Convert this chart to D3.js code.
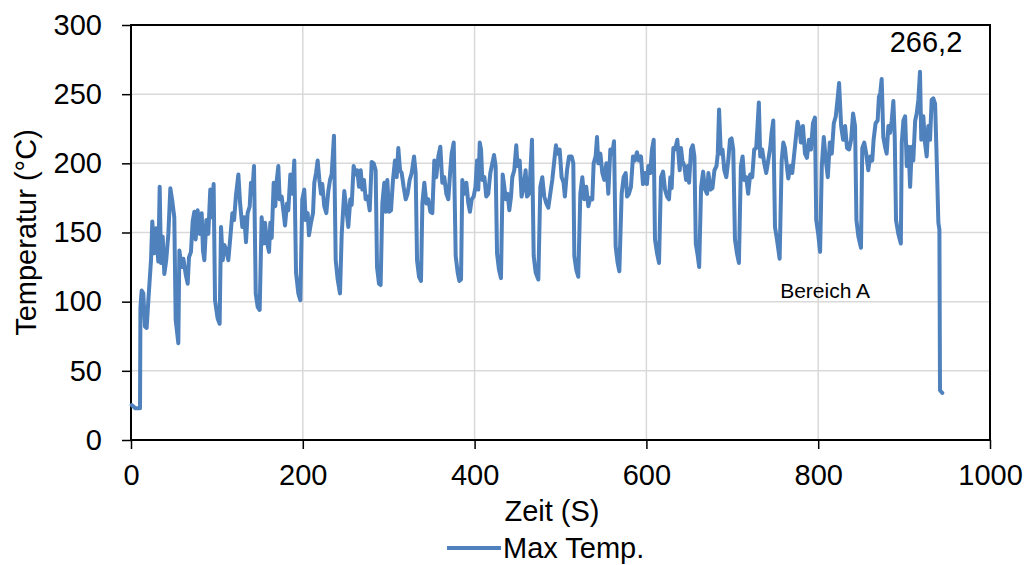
<!DOCTYPE html>
<html>
<head>
<meta charset="utf-8">
<script src="https://cdn.jsdelivr.net/npm/d3@7"></script>
<style>
  body { margin: 0; background: #fff; }
  svg text { font-family: "Liberation Sans", Arial, sans-serif; fill: #000; }
</style>
</head>
<body>
<div id="chart-area"></div>
<script>
// Zeit (s) und Max Temp. (°C)
const zeit = [
  0.8, 5, 10.5, 11, 12.4, 14.3, 16.3, 18.2, 20.2, 23.3, 24.8, 27, 29.1, 31.8, 33.4, 34.9, 36.9, 38.8, 41, 43.5,
  45.8, 48, 50.4, 52, 55.1, 56.3, 59, 61, 63.6, 66, 67.5, 69.8, 71.8, 73.7, 75.3, 77.6, 80, 82.3, 83.8, 85.4,
  87.7, 90, 92.3, 94.3, 96.2, 97.8, 100.8, 103.2, 104.8, 106.8, 108.7, 111, 113.3, 115.7, 118, 120, 122.2, 125, 126.9, 129.6,
  131.9, 133.9, 135.8, 138.2, 139.7, 141.2, 143.2, 145.2, 147.5, 149.8, 152.1, 154.4, 156, 158.3, 160.7, 162.2, 163.8, 166.1, 168, 169.6,
  171.5, 173.1, 175.4, 177.7, 179.3, 181.6, 183.1, 185.5, 187.8, 190.1, 192.1, 194.8, 197.1, 199.4, 201.7, 203.4, 205.7, 207.2, 209.5, 211.9,
  213.4, 215.4, 217.3, 219.3, 221.2, 222.7, 225, 227.4, 229.7, 231.7, 233.6, 236.3, 238.3, 240.6, 243.3, 245.3, 248.3, 251, 253, 255.3,
  256.9, 259.2, 261.6, 263.5, 265.4, 267.4, 269.3, 271.2, 273.2, 275.5, 277.9, 280.2, 282.5, 284.8, 286.4, 288.7, 290.6, 292.6, 294.9, 296.5,
  298.4, 300.3, 302.7, 305, 307.3, 309.3, 311.2, 313.2, 315.1, 317.4, 319.8, 322, 324.4, 326.7, 329.5, 331.4, 333, 335.3, 337.6, 339.2,
  341.5, 343.9, 346.1, 348.5, 350.8, 353.1, 355.4, 357.8, 360.1, 362.4, 364.7, 367.1, 369.4, 371.7, 373.3, 375.7, 378, 380.3, 382.2, 384.2,
  385.7, 388, 390.4, 392.7, 394.6, 396.6, 398.9, 401, 402.8, 404.3, 406, 407.5, 409, 411.4, 413.6, 415.9, 418.3, 420.6, 422.6, 424.5,
  426.1, 428.4, 430.7, 432.7, 434.6, 436.2, 438.5, 440.4, 442.4, 443.9, 446.2, 448.5, 450, 452.5, 454.7, 457.1, 459.4, 461, 463.3, 464.9,
  466.8, 468.8, 471.1, 474.2, 476.5, 478.8, 481.1, 483.5, 485.8, 488.1, 490.4, 492.8, 494.7, 496.6, 499, 501.3, 503.6, 505.1, 507.6, 509.9,
  513, 514.9, 516.1, 518.4, 520.7, 523.1, 525.4, 527.7, 530, 532.4, 534.7, 537, 538.6, 540.9, 542.5, 544, 546.4, 548.7, 551, 553.4,
  555.7, 558, 560.3, 562.3, 564.2, 566.5, 568.5, 571.2, 573.5, 575.9, 577.5, 579.7, 582, 584.4, 586.7, 589, 591.3, 593.7, 596, 598.3,
  600.6, 602.2, 604.5, 606.5, 608.5, 610, 612.4, 614.7, 617, 619.4, 621.7, 624, 626.3, 627.9, 629.4, 631.4, 633.3, 636, 638.8, 640.3,
  641.9, 644.2, 646.2, 648.1, 649.7, 652, 654, 655.9, 657.5, 659.8, 661.4, 663.7, 666, 668.3, 670.7, 672.2, 674.6, 676.9, 679.2, 681.6,
  683.1, 684.6, 686.6, 688.6, 690.7, 693, 695.3, 697.3, 699.2, 701.1, 703.1, 705.4, 707.7, 710, 712, 713.9, 716.2, 718.5, 720.8, 723.2,
  725.5, 727.8, 729.4, 730.9, 732.5, 734.8, 737.2, 739.5, 741.8, 744.1, 745.7, 747.7, 749.7, 752, 755.1, 757.5, 759.4, 761.3, 763.5, 765.2,
  767.5, 769.8, 772.1, 774.1, 776, 778.4, 779.9, 782.2, 784.6, 786.9, 789.2, 791.5, 793.9, 796.2, 797.7, 800, 802.2, 804.2, 806.5, 808.9,
  811.2, 813.5, 815.8, 818.2, 820.5, 822.8, 824.3, 826.7, 829, 831.3, 833.6, 836, 838.3, 840.6, 842.9, 844.5, 846.8, 849.8, 851.3, 853.6,
  855.9, 858.3, 860.6, 862.9, 864.5, 866.8, 869.2, 870.7, 872.3, 873.9, 875.8, 877.8, 879.7, 881.7, 883.6, 885.6, 887.5, 889.1, 890.6, 893.3,
  896.2, 897.3, 899.2, 901.2, 903.1, 905.1, 907, 909, 910.7, 912.9, 914.7, 916.6, 918.5, 920, 922.4, 924.3, 926.3, 928.2, 930.2, 932.1,
  934, 936.1, 938, 939.9, 941.1, 941.8, 944.5
]
const maxTemp = [
  25.3, 23, 23, 96, 108, 106, 82, 81, 101, 130, 158, 135, 153, 129, 183, 128, 147, 120, 130, 149,
  182, 173, 161, 87, 70, 137, 125, 131, 120, 113, 132, 136, 158, 165, 145, 166, 149, 164, 137, 130,
  159, 149, 181, 161, 185, 101, 88, 84, 154, 130, 141, 137, 130, 147, 164, 159, 177, 192, 172, 154,
  161, 143, 164, 169, 186, 178, 198, 106, 96, 94, 161, 142, 157, 143, 136, 157, 146, 186, 169, 187,
  198, 174, 176, 164, 155, 171, 166, 192, 178, 202, 121, 106, 101, 174, 181, 159, 164, 148, 157, 164,
  186, 193, 202, 188, 178, 185, 169, 164, 180, 188, 192, 220, 130, 116, 106, 149, 180, 165, 154, 174,
  170, 198, 192, 195, 183, 195, 181, 188, 174, 176, 166, 201, 200, 195, 125, 113, 112, 171, 186, 165,
  188, 165, 166, 188, 202, 190, 211, 195, 193, 183, 174, 178, 188, 193, 205, 193, 130, 118, 115, 171,
  186, 171, 174, 165, 164, 202, 190, 205, 212, 186, 190, 178, 174, 195, 207, 215, 133, 121, 115, 116,
  188, 178, 186, 171, 165, 174, 176, 183, 202, 181, 215, 210, 188, 190, 176, 178, 193, 200, 206, 198,
  135, 123, 117, 192, 183, 174, 178, 166, 176, 190, 195, 213, 198, 202, 176, 183, 195, 176, 178, 193,
  217, 133, 121, 116, 183, 190, 176, 171, 168, 178, 188, 202, 213, 207, 210, 190, 186, 176, 195, 205,
  205, 200, 133, 123, 118, 178, 190, 174, 183, 169, 175, 174, 200, 205, 219, 200, 207, 193, 188, 200,
  178, 210, 207, 216, 140, 128, 122, 178, 190, 193, 176, 178, 183, 205, 202, 208, 202, 205, 185, 193,
  185, 198, 193, 210, 217, 145, 135, 128, 190, 194, 181, 176, 174, 190, 182, 211, 210, 217, 195, 211,
  202, 198, 188, 198, 186, 210, 213, 205, 142, 133, 125, 183, 194, 181, 178, 193, 181, 182, 195, 198,
  207, 239, 207, 210, 195, 190, 202, 217, 218, 210, 145, 135, 128, 198, 205, 188, 190, 178, 192, 190,
  210, 211, 227, 244, 205, 210, 200, 193, 202, 211, 222, 231, 154, 145, 131, 202, 215, 211, 198, 189,
  198, 193, 207, 219, 230, 224, 215, 227, 207, 204, 217, 210, 229, 233, 159, 149, 136, 198, 219, 202,
  190, 215, 207, 229, 234, 248, 258, 227, 217, 227, 211, 210, 217, 236, 227, 159, 147, 139, 211, 215,
  207, 195, 205, 202, 217, 229, 231, 248, 251, 261, 219, 212, 207, 227, 222, 231, 245, 219, 159, 149,
  142, 215, 231, 234, 198, 212, 183, 212, 202, 231, 236, 246, 266.2, 217, 234, 215, 205, 227, 217, 246,
  247, 243, 202, 157, 152, 36, 34
]
const xTicks = [0, 200, 400, 600, 800, 1000]
const yTicks = [0, 50, 100, 150, 200, 250, 300]

const MARGIN = { LEFT: 131, RIGHT: 40, TOP: 25, BOTTOM: 125 }
const WIDTH = 1030 - MARGIN.LEFT - MARGIN.RIGHT
const HEIGHT = 565 - MARGIN.TOP - MARGIN.BOTTOM
const BLUE = "#4f81bd"

const svg = d3.select("#chart-area").append("svg")
  .attr("width", 1030)
  .attr("height", 565)

const g = svg.append("g")
  .attr("transform", `translate(${MARGIN.LEFT}, ${MARGIN.TOP})`)

const x = d3.scaleLinear().domain([0, 1000]).range([0, WIDTH])
const y = d3.scaleLinear().domain([0, 300]).range([HEIGHT, 0])

// grid
g.append("g").selectAll("line.h").data(yTicks).enter().append("line")
  .attr("x1", 0).attr("x2", WIDTH)
  .attr("y1", d => y(d)).attr("y2", d => y(d))
  .attr("stroke", "#d9d9d9").attr("stroke-width", 1.5)
g.append("g").selectAll("line.v").data(xTicks).enter().append("line")
  .attr("x1", d => x(d)).attr("x2", d => x(d))
  .attr("y1", 0).attr("y2", HEIGHT)
  .attr("stroke", "#d9d9d9").attr("stroke-width", 1.5)

// axes
const yAxisCall = d3.axisLeft(y).tickValues(yTicks).tickSize(9).tickPadding(20)
  .tickFormat(d => d)
const yAxis = g.append("g").call(yAxisCall)
const xAxisCall = d3.axisBottom(x).tickValues(xTicks).tickSize(9).tickPadding(15)
  .tickFormat(d => d)
const xAxis = g.append("g").attr("transform", `translate(0, ${HEIGHT})`).call(xAxisCall)
;[yAxis, xAxis].forEach(a => {
  a.select(".domain").remove()
  a.selectAll("line").attr("stroke", "#000").attr("stroke-width", 1.5)
  a.selectAll("text").attr("font-size", "29px").attr("fill", "#000")
    .style("font-family", '"Liberation Sans", Arial, sans-serif')
})

// frame
g.append("rect")
  .attr("width", WIDTH).attr("height", HEIGHT)
  .attr("fill", "none").attr("stroke", "#000").attr("stroke-width", 2)

// line
const line = d3.line()
  .x((d, i) => x(zeit[i]))
  .y(d => y(d))
g.append("path")
  .datum(maxTemp)
  .attr("fill", "none")
  .attr("stroke", BLUE)
  .attr("stroke-width", 4)
  .attr("stroke-linejoin", "round")
  .attr("stroke-linecap", "round")
  .attr("d", line)

// labels
const peak = d3.maxIndex(maxTemp)
g.append("text")
  .attr("x", x(zeit[peak]) + 6)
  .attr("y", 27)
  .attr("text-anchor", "middle")
  .attr("font-size", "29px")
  .text(String(maxTemp[peak]).replace(".", ","))

g.append("text")
  .attr("x", x(808))
  .attr("y", y(103))
  .attr("text-anchor", "middle")
  .attr("font-size", "21px")
  .attr("fill", "#333")
  .text("Bereich A")

// Y label
svg.append("text")
  .attr("transform", `translate(36, ${MARGIN.TOP + HEIGHT / 2}) rotate(-90)`)
  .attr("text-anchor", "middle")
  .attr("font-size", "29px")
  .text("Temperatur (°C)")

// X label
svg.append("text")
  .attr("x", 552)
  .attr("y", 521)
  .attr("text-anchor", "middle")
  .attr("font-size", "29px")
  .text("Zeit (S)")

// legend
const legend = svg.append("g").attr("transform", "translate(447, 548)")
legend.append("line")
  .attr("x1", 0).attr("x2", 54).attr("y1", 0).attr("y2", 0)
  .attr("stroke", BLUE).attr("stroke-width", 4)
legend.append("text")
  .attr("x", 56).attr("y", 10)
  .attr("font-size", "29px")
  .text("Max Temp.")
</script>
</body>
</html>
